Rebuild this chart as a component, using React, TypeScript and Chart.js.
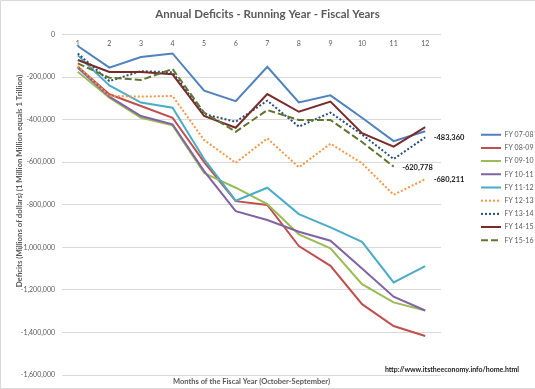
import React, { useEffect, useRef } from 'react';
import { Chart, registerables } from 'chart.js';

Chart.register(...registerables);

// ---------- data ----------
const months = ['1', '2', '3', '4', '5', '6', '7', '8', '9', '10', '11', '12'];
const seriesNames = ['FY 07-08', 'FY 08-09', 'FY 09-10', 'FY 10-11', 'FY 11-12', 'FY 12-13', 'FY 13-14', 'FY 14-15', 'FY 15-16'];

const fy0708 = [-54000, -156000, -106000, -89000, -264000, -313000, -152000, -319000, -286000, -391000, -501000, -455000];
const fy0809 = [-151000, -281000, -336000, -391000, -600000, -783000, -801000, -994000, -1087000, -1267000, -1370000, -1417000];
const fy0910 = [-175000, -297000, -391000, -427000, -651000, -720000, -797000, -939000, -1005000, -1173000, -1259000, -1297000];
const fy1011 = [-156000, -292000, -383000, -422000, -642000, -830000, -872000, -927000, -969000, -1099000, -1232000, -1297000];
const fy1112 = [-98000, -239000, -320000, -344000, -585000, -781000, -720000, -844000, -906000, -974000, -1165000, -1088000];
const fy1213 = [-148000, -289000, -292000, -289000, -496000, -603000, -488000, -624000, -513000, -605000, -753000, -680211];
const fy1314 = [-89000, -219000, -172000, -178000, -374000, -410000, -311000, -433000, -367000, -470000, -585000, -483360];
const fy1415 = [-120000, -176000, -176000, -187000, -383000, -438000, -280000, -363000, -315000, -464000, -527000, -435000];
const fy1516 = [-136000, -203000, -214000, -162000, -367000, -457000, -355000, -402000, -402000, -505000, -620778, null];

const seriesValues = [fy0708, fy0809, fy0910, fy1011, fy1112, fy1213, fy1314, fy1415, fy1516];

// y axis range / ticks
const yMin = -1600000;
const yMax = 0;
const yStep = 200000;

// labelled points: [series index, month index]
const labelledPoints: [number, number][] = [[6, 11], [8, 10], [5, 11]];

const titleText = 'Annual Deficits - Running Year - Fiscal Years';
const yTitleText = 'Deficits (Millions of dollars) (1 Million Million equals 1 Trillion)';
const xTitleText = 'Months of the Fiscal Year (October-September)';
const sourceText = 'http://www.itstheeconomy.info/home.html';

// ---------- styles ----------
const colors = ['#4F81BD', '#C0504D', '#9BBB59', '#8064A2', '#4BACC6', '#F79646', '#2C4D75', '#772C2A', '#5F7530'];
const dashes: number[][] = [[], [], [], [], [], [2, 2], [2, 2], [], [7, 3]];
const FONT = 'Lato, "Open Sans", "DejaVu Sans", sans-serif';
const GREY = '#595959';

const fmt = (v: number) => v.toLocaleString('en-US');

const extrasPlugin = {
  id: 'extras',
  beforeLayout(chart: any) {
    const lg = chart.legend;
    if (lg && !lg.__patched) {
      const orig = lg.fit.bind(lg);
      lg.fit = function () {
        orig();
        this.width = 94;
      };
      lg.__patched = true;
    }
  },
  afterLayout(chart: any) {
    const lg = chart.legend;
    if (lg) {
      const pad = lg.options.labels.padding;
      lg.left = chart.chartArea.right + 40 - pad;
      lg.right = lg.left + lg.width;
    }
  },
  beforeDraw(chart: any) {
    const ctx = chart.ctx;
    ctx.save();
    ctx.fillStyle = '#ffffff';
    ctx.fillRect(0, 0, chart.width, chart.height);
    ctx.strokeStyle = '#D9D9D9';
    ctx.lineWidth = 1;
    ctx.beginPath();
    ctx.moveTo(0.5, 0.5);
    ctx.lineTo(chart.width, 0.5);
    ctx.moveTo(0.5, 0.5);
    ctx.lineTo(0.5, chart.height - 0.5);
    ctx.lineTo(chart.width, chart.height - 0.5);
    ctx.stroke();
    ctx.restore();
  },
  afterDraw(chart: any) {
    const ctx = chart.ctx;
    const area = chart.chartArea;
    ctx.save();
    // y axis title
    ctx.fillStyle = GREY;
    ctx.font = `bold 7.8px ${FONT}`;
    ctx.textAlign = 'center';
    ctx.textBaseline = 'middle';
    ctx.translate(19, 181);
    ctx.rotate(-Math.PI / 2);
    ctx.fillText(yTitleText, 0, 0);
    ctx.restore();

    ctx.save();
    ctx.fillStyle = GREY;
    ctx.font = `bold 7.5px ${FONT}`;
    ctx.textAlign = 'center';
    ctx.textBaseline = 'middle';
    ctx.fillText(xTitleText, (area.left + area.right) / 2, 382);

    ctx.fillStyle = '#1a1a1a';
    ctx.font = `bold 7px ${FONT}`;
    ctx.fillText(sourceText, 452, 369.5);

    // data labels
    ctx.textAlign = 'left';
    ctx.font = `bold 7.5px ${FONT}`;
    for (const [s, i] of labelledPoints) {
      const meta = chart.getDatasetMeta(s);
      const pt = meta.data[i];
      const v = seriesValues[s][i];
      if (!pt || v == null) continue;
      ctx.fillText(fmt(v), pt.x + 8.5, pt.y + 0.5);
    }
    ctx.restore();
  },
};

export default function App() {
  const canvasRef = useRef<HTMLCanvasElement | null>(null);

  useEffect(() => {
    document.body.style.margin = '0';
    const canvas = canvasRef.current;
    if (!canvas) return;
    const chart = new Chart(canvas, {
      type: 'line',
      data: {
        labels: months,
        datasets: seriesNames.map((name, i) => ({
          label: name,
          data: seriesValues[i],
          borderColor: colors[i],
          backgroundColor: colors[i],
          borderWidth: 2,
          borderDash: dashes[i],
          pointRadius: 0,
          pointHoverRadius: 0,
          tension: 0,
          fill: false,
          spanGaps: false,
          order: seriesNames.length - i,
        })),
      },
      options: {
        responsive: false,
        animation: false,
        devicePixelRatio: 1,
        events: [],
        layout: { padding: { top: 0, left: 0, right: 0, bottom: 14 } },
        plugins: {
          title: {
            display: true,
            text: titleText,
            color: GREY,
            font: { family: FONT, size: 11.5, weight: 'bold' },
            padding: { top: 7.4, bottom: 13.3 },
          },
          legend: {
            display: true,
            position: 'right',
            align: 'center',
            labels: {
              usePointStyle: true,
              pointStyle: 'line',
              pointStyleWidth: 20,
              boxHeight: 7,
              padding: 6.2,
              color: GREY,
              font: { family: FONT, size: 7 },
              generateLabels: (c: any) =>
                c.data.datasets.map((ds: any, i: number) => ({
                  text: ds.label,
                  strokeStyle: ds.borderColor,
                  fillStyle: ds.borderColor,
                  lineWidth: 2,
                  lineDash: ds.borderDash,
                  lineCap: 'butt',
                  pointStyle: 'line',
                  hidden: false,
                  datasetIndex: i,
                  fontColor: GREY,
                })),
            },
          },
          tooltip: { enabled: false },
        },
        scales: {
          x: {
            type: 'category',
            position: { y: 0 } as any,
            offset: true,
            grid: { display: false, drawTicks: false, offset: true },
            border: { display: false },
            ticks: {
              color: GREY,
              font: { family: FONT, size: 7 },
              padding: 5,
              maxRotation: 0,
              autoSkip: false,
            },
          },
          y: {
            type: 'linear',
            min: yMin,
            max: yMax,
            grid: { color: '#D9D9D9', lineWidth: 1, drawTicks: false },
            border: { display: false },
            ticks: {
              stepSize: yStep,
              color: GREY,
              font: { family: FONT, size: 7 },
              padding: 7,
              callback: (v: any) => fmt(Number(v)),
            },
            afterFit: (scale: any) => {
              scale.width = 62;
            },
          },
        },
      },
      plugins: [extrasPlugin],
    } as any);
    return () => chart.destroy();
  }, []);

  return (
    <div style={{ width: 535, height: 389, overflow: 'hidden' }}>
      <canvas ref={canvasRef} width={535} height={389} style={{ display: 'block', width: 535, height: 389 }} />
    </div>
  );
}
